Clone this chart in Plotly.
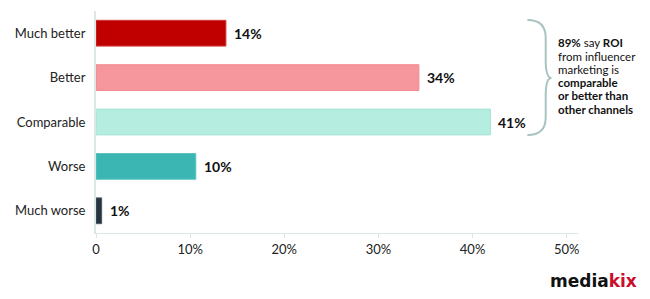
import plotly.graph_objects as go

categories = ["Much better", "Better", "Comparable", "Worse", "Much worse"]
values = [13.8, 34.3, 41.9, 10.6, 0.6]
labels = ["14%", "34%", "41%", "10%", "1%"]
colors = ["#c00000", "#f5979d", "#b6ede1", "#3bb6b3", "#26343e"]
edge_colors = ["#d23a3a", "#f28a91", "#a3e3d4", "#5cc4c1", "#4a5a66"]
tick_vals = [0, 10, 20, 30, 40, 50]
tick_text = ["0", "10%", "20%", "30%", "40%", "50%"]
note_lines = ["<b>89%</b> say <b>ROI</b>", "from influencer", "marketing is",
              "<b>comparable</b>", "<b>or better than</b>", "<b>other channels</b>"]

font_family = "Lato, 'Open Sans', sans-serif"

fig = go.Figure()
fig.add_trace(go.Bar(
    x=values, y=categories, orientation="h",
    marker=dict(color=colors, line=dict(color=edge_colors, width=1)),
    hoverinfo="skip",
))

for v, c, lab in zip(values, categories, labels):
    fig.add_annotation(x=v, y=c, text="<b>" + lab + "</b>", showarrow=False,
                       xanchor="left", xshift=6,
                       font=dict(family=font_family, size=14, color="#111111"))

# bracket
fig.add_shape(type="path", xref="paper", yref="paper",
              path="M 0.895 0.959 Q 0.933 0.959 0.933 0.88 L 0.933 0.78 Q 0.933 0.698 0.945 0.698 Q 0.933 0.698 0.933 0.62 L 0.933 0.52 Q 0.933 0.441 0.895 0.441",
              line=dict(color="#a9c2c2", width=2))

for i, line in enumerate(note_lines):
    fig.add_annotation(xref="paper", yref="paper", x=0.954, y=(233 - 43 - i * 13.2) / 222,
                       xanchor="left", yanchor="middle", align="left", showarrow=False,
                       text=line, font=dict(family=font_family, size=11.5, color="#111111"))

# logo
fig.add_annotation(xref="paper", yref="paper", x=1.127, y=-0.216, xanchor="right", yanchor="middle",
                   showarrow=False,
                   text="<b><span style='color:#111111'>media</span><span style='color:#c8102e'>kix</span></b>",
                   font=dict(family="'DejaVu Sans', sans-serif", size=17))

fig.update_layout(
    width=650, height=299,
    margin=dict(l=96, r=72, t=11, b=66),
    paper_bgcolor="white", plot_bgcolor="white",
    bargap=0.42,
    showlegend=False,
    font=dict(family=font_family, size=13, color="#222222"),
    xaxis=dict(range=[0, 51.2], tickvals=tick_vals, ticktext=tick_text,
               showgrid=False, zeroline=False, showline=True, linecolor="#dde6e6", linewidth=1,
               ticks="outside", ticklen=4, tickcolor="#dde6e6",
               tickfont=dict(size=13, color="#222222")),
    yaxis=dict(autorange="reversed", showgrid=False, zeroline=False,
               showline=True, linecolor="#dde6e6", linewidth=2,
               ticks="", ticklabelstandoff=6,
               tickfont=dict(size=13, color="#222222")),
)

fig.write_html("out.html")
